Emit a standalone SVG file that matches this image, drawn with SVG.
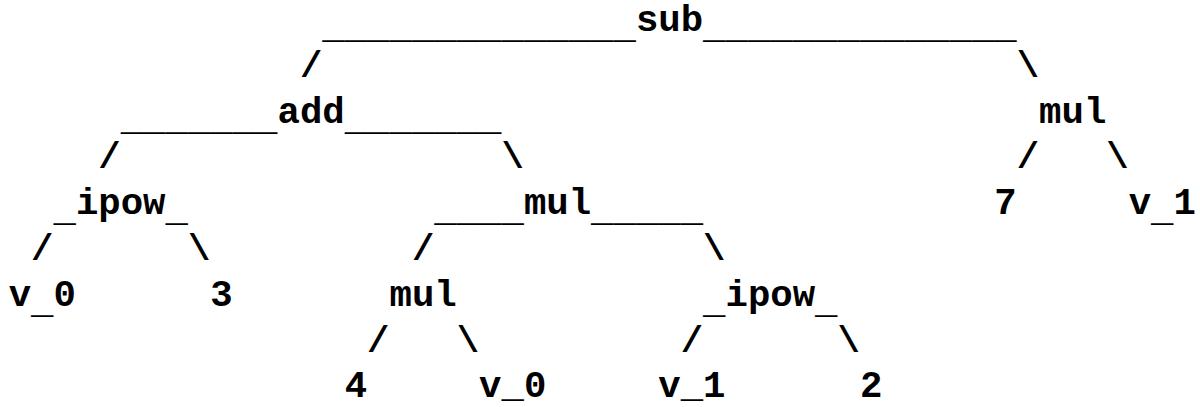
<svg xmlns="http://www.w3.org/2000/svg" width="1200" height="407" viewBox="0 0 1200 407">
<style>
text { font-family: "Liberation Mono", "Courier New", monospace; font-size: 37.33px; font-weight: bold; fill: #000; }
</style>
<rect width="1200" height="407" fill="#fff"/>
<g id="connectors">
  <text x="322.3" y="38">______________</text>
  <text x="703.1" y="38">______________</text>
  <text x="299.9" y="76.8">/</text>
  <text x="1016.7" y="76.8">\</text>
  <text x="120.7" y="129.6">_______</text>
  <text x="344.7" y="129.6">_______</text>
  <text x="98.3" y="168.4">/</text>
  <text x="501.5" y="168.4">\</text>
  <text x="1016.7" y="168.4">/</text>
  <text x="1106.3" y="168.4">\</text>
  <text x="434.3" y="221.2">____</text>
  <text x="591.1" y="221.2">_____</text>
  <text x="31.1" y="260">/</text>
  <text x="187.9" y="260">\</text>
  <text x="411.9" y="260">/</text>
  <text x="703.1" y="260">\</text>
  <text x="367.1" y="351.6">/</text>
  <text x="456.7" y="351.6">\</text>
  <text x="680.7" y="351.6">/</text>
  <text x="837.5" y="351.6">\</text>
</g>
<g id="node-sub"><text x="635.9" y="31">sub</text></g>
<g id="node-add"><text x="277.5" y="122.6">add</text></g>
<g id="node-mul-right"><text x="1039.1" y="122.6">mul</text></g>
<g id="node-ipow-left"><text x="53.5" y="214.2"><tspan dy="7">_</tspan><tspan dy="-7">ipow</tspan><tspan dy="7">_</tspan></text></g>
<g id="node-mul-mid"><text x="523.9" y="214.2">mul</text></g>
<g id="node-7"><text x="994.3" y="214.2">7</text></g>
<g id="node-v1-right"><text x="1128.7" y="214.2">v<tspan dy="7">_</tspan><tspan dy="-7">1</tspan></text></g>
<g id="node-v0-left"><text x="8.7" y="305.8">v<tspan dy="7">_</tspan><tspan dy="-7">0</tspan></text></g>
<g id="node-3"><text x="210.3" y="305.8">3</text></g>
<g id="node-mul-low"><text x="389.5" y="305.8">mul</text></g>
<g id="node-ipow-low"><text x="703.1" y="305.8"><tspan dy="7">_</tspan><tspan dy="-7">ipow</tspan><tspan dy="7">_</tspan></text></g>
<g id="node-4"><text x="344.7" y="397.4">4</text></g>
<g id="node-v0-low"><text x="479.1" y="397.4">v_0</text></g>
<g id="node-v1-low"><text x="658.3" y="397.4">v_1</text></g>
<g id="node-2"><text x="859.9" y="397.4">2</text></g>
</svg>
